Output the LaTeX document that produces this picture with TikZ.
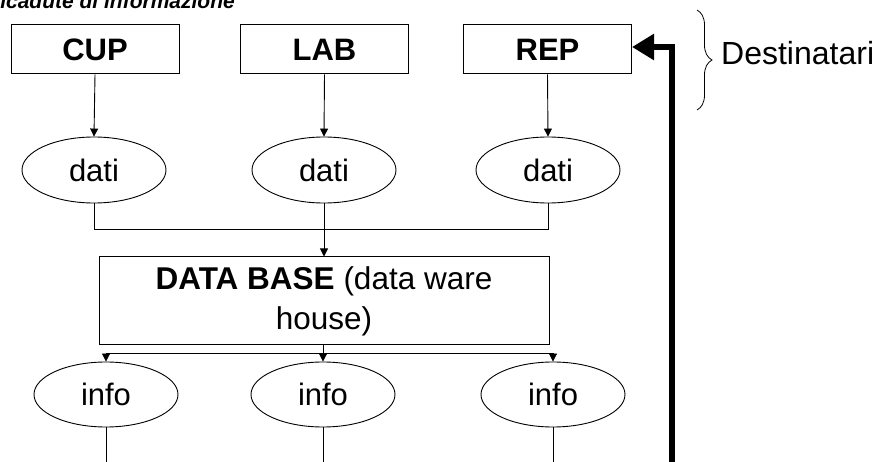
\documentclass[tikz,border=0pt]{standalone}
\usepackage{fontspec}
\setmainfont{Liberation Sans}
\usetikzlibrary{arrows.meta,shapes.geometric,decorations.pathreplacing}

\tikzset{
  srcbox/.style={draw=black, line width=1pt, rectangle, minimum width=168pt,
    minimum height=49pt, inner sep=0pt, font=\fontsize{31}{36}\selectfont\bfseries},
  oval/.style={draw=black, line width=0.9pt, ellipse, minimum width=144pt,
    minimum height=66pt, inner sep=0pt, font=\fontsize{31}{36}\selectfont},
  dbbox/.style={draw=black, line width=1pt, rectangle, minimum width=450pt,
    minimum height=88pt, inner sep=0pt, align=center,
    font=\fontsize{31.5}{40}\selectfont},
  wire/.style={line width=0.9pt, black},
  arr/.style={wire, -{Triangle[length=8pt,width=8pt]}},
  feedback/.style={line width=6pt, black, -{Triangle[length=22pt,width=25pt]}},
}

\begin{document}
\begin{tikzpicture}[x=1pt, y=-1pt]
  \useasboundingbox (0,0) rectangle (884,462);
  \clip (0,0) rectangle (884,462);

  % heading, partly cut off by the page edge
  \node[anchor=base east, inner sep=0pt, font=\fontsize{21}{25}\selectfont\bfseries\itshape]
    (title) at (235,9) {Ricadute di informazione};

  % recipients
  \node[srcbox] (cup) at (95,49.5) {CUP};
  \node[srcbox] (lab) at (324.5,49.5) {LAB};
  \node[srcbox] (rep) at (547.5,49.5) {REP};

  % data produced by each recipient
  \node[oval] (d1) at (94,170) {dati};
  \node[oval] (d2) at (324,170) {dati};
  \node[oval] (d3) at (548,170) {dati};

  \draw[arr] (cup.south) -- (d1.north);
  \draw[arr] (lab.south) -- (d2.north);
  \draw[arr] (rep.south) -- (d3.north);

  % data warehouse
  \node[dbbox] (db) at (324,301) {\textbf{DATA BASE} (data ware\\house)};

  \coordinate (jl) at (94,229);
  \coordinate (jm) at (324,229);
  \coordinate (jr) at (548,229);
  \draw[wire] (d1.south) -- (jl) -- (jr) -- (d3.south);
  \draw[wire] (d2.south) -- (jm);
  \draw[arr] (jm) -- (db.north);

  % information returned
  \node[oval, minimum height=65pt] (i1) at (106,394.5) {info};
  \node[oval, minimum height=65pt] (i2) at (323,394.5) {info};
  \node[oval, minimum height=65pt] (i3) at (553,394.5) {info};

  \coordinate (sl) at (106,353);
  \coordinate (sm) at (323,353);
  \coordinate (sr) at (553,353);
  \draw[wire] (sl) -- (sr);
  \draw[wire] (db.south -| sm) -- (sm);
  \draw[arr] (sm) -- (i2.north);
  \draw[arr] (sl) -- (i1.north);
  \draw[arr] (sr) -- (i3.north);

  \coordinate (e1) at (106,470);
  \coordinate (e2) at (323,470);
  \coordinate (e3) at (553,470);
  \draw[wire] (i1.south) -- (e1);
  \draw[wire] (i2.south) -- (e2);
  \draw[wire] (i3.south) -- (e3);

  % feedback loop back to the recipients
  \coordinate (fb0) at (672,475);
  \coordinate (fb1) at (672,47);
  \draw[feedback] (fb0) -- (fb1) -- (rep.east |- fb1);

  % brace grouping the recipients
  \coordinate (bt) at (697,10);
  \coordinate (bb) at (697,110);
  \draw[line width=0.8pt, decorate, decoration={brace, amplitude=15pt}] (bt) -- (bb);
  \node[anchor=base west, inner sep=0pt, font=\fontsize{32}{36}\selectfont]
    (dest) at (721,65) {Destinatari};
\end{tikzpicture}
\end{document}
